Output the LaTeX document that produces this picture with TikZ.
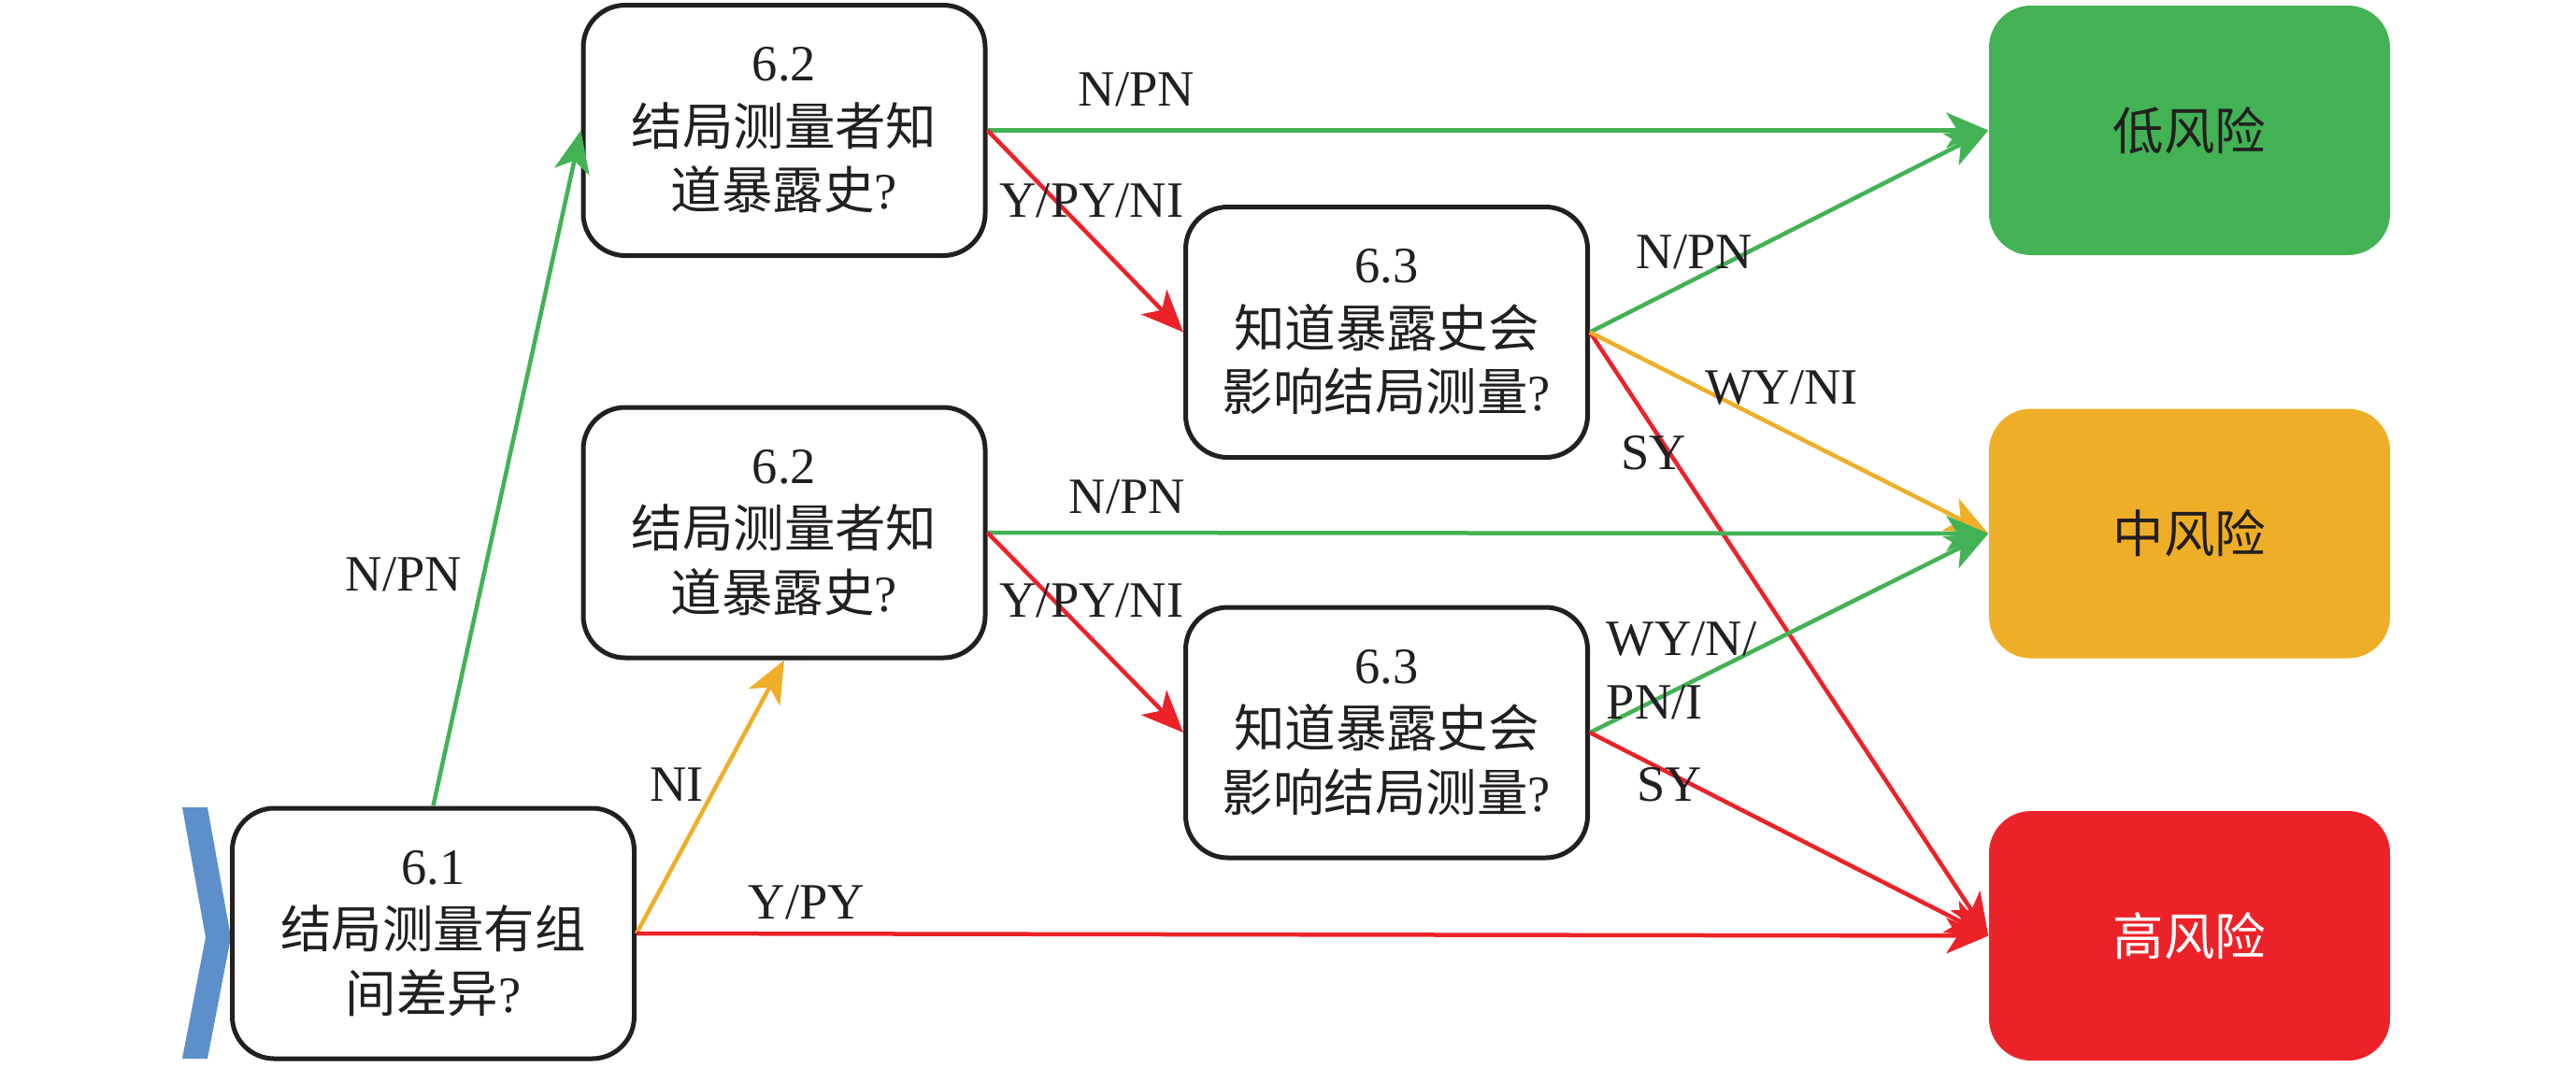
\documentclass[tikz,border=0pt]{standalone}
\usepackage{fontspec}
\setmainfont{Liberation Serif}
\newfontfamily\cjk{Noto Sans CJK SC}
\usetikzlibrary{arrows.meta}
\definecolor{cgreen}{RGB}{66,178,84}
\definecolor{cyellow}{RGB}{239,174,39}
\definecolor{cred}{RGB}{236,34,41}
\definecolor{cblue}{RGB}{93,143,202}
\definecolor{ctext}{RGB}{35,31,32}
\tikzset{
  txt/.style={font=\fontsize{15.5}{19.5}\selectfont, text=ctext},
  qbox/.style={txt, draw=ctext, line width=0.05cm, rounded corners=0.45cm,
    minimum width=4.30cm, minimum height=2.68cm, align=center, inner sep=0pt, fill=white},
  riskbox/.style={txt, fill=#1, rounded corners=0.45cm,
    minimum width=4.29cm, minimum height=2.67cm, inner sep=0pt},
  conn/.style={line width=0.045cm, draw=#1,
    -{Stealth[length=0.45cm,width=0.38cm,inset=0.12cm]}},
  lbl/.style={txt, inner sep=0pt, align=left},
}
\begin{document}
\begin{tikzpicture}
\useasboundingbox (0,0) rectangle (27.56,-11.42);
% chevron
\fill[cblue] (1.95,-8.64) -- (2.22,-8.64) -- (2.47,-10.03) -- (2.22,-11.33)
  -- (1.95,-11.33) -- (2.20,-10.03) -- cycle;
% question boxes
\node[qbox] (q61) at (4.635,-9.99) {6.1\\{\cjk 结局测量有组}\\{\cjk 间差异}?};
\node[qbox] (q62a) at (8.39,-1.395) {6.2\\{\cjk 结局测量者知}\\{\cjk 道暴露史}?};
\node[qbox] (q62b) at (8.39,-5.70) {6.2\\{\cjk 结局测量者知}\\{\cjk 道暴露史}?};
\node[qbox] (q63a) at (14.835,-3.555) {6.3\\{\cjk 知道暴露史会}\\{\cjk 影响结局测量}?};
\node[qbox] (q63b) at (14.835,-7.84) {6.3\\{\cjk 知道暴露史会}\\{\cjk 影响结局测量}?};
% risk boxes
\node[riskbox=cgreen] (low) at (23.425,-1.395) {\cjk 低风险};
\node[riskbox=cyellow] (mid) at (23.425,-5.71) {\cjk 中风险};
\node[riskbox=cred, text=white] (high) at (23.425,-10.015) {\cjk 高风险};
% connectors
\draw[conn=cgreen] (q61.north) -- (q62a.west);
\draw[conn=cyellow] (q61.east) -- (q62b.south);
\draw[conn=cred] (q61.east) -- (high.west);
\draw[conn=cgreen] (q62a.east) -- (low.west);
\draw[conn=cred] (q62a.east) -- (q63a.west);
\draw[conn=cred] (q63a.east) -- (high.west);
\draw[conn=cgreen] (q63a.east) -- (low.west);
\draw[conn=cyellow] (q63a.east) -- (mid.west);
\draw[conn=cgreen] (q62b.east) -- (mid.west);
\draw[conn=cred] (q62b.east) -- (q63b.west);
\draw[conn=cgreen] (q63b.east) -- (mid.west);
\draw[conn=cred] (q63b.east) -- (high.west);
% labels
\node[lbl] (l1) at (4.32,-6.15) {N/PN};
\node[lbl] (l2) at (7.24,-8.40) {NI};
\node[lbl] (l3) at (8.63,-9.66) {Y/PY};
\node[lbl] (l4) at (12.16,-0.96) {N/PN};
\node[lbl] (l5) at (11.68,-2.15) {Y/PY/NI};
\node[lbl] (l6) at (18.13,-2.70) {N/PN};
\node[lbl] (l7) at (19.06,-4.15) {WY/NI};
\node[lbl] (l8) at (17.69,-4.85) {SY};
\node[lbl] (l9) at (12.06,-5.32) {N/PN};
\node[lbl] (l10) at (11.68,-6.43) {Y/PY/NI};
\node[lbl] (l11) at (17.99,-7.18) {WY/N/\\PN/I};
\node[lbl] (l12) at (17.86,-8.40) {SY};
\end{tikzpicture}
\end{document}
